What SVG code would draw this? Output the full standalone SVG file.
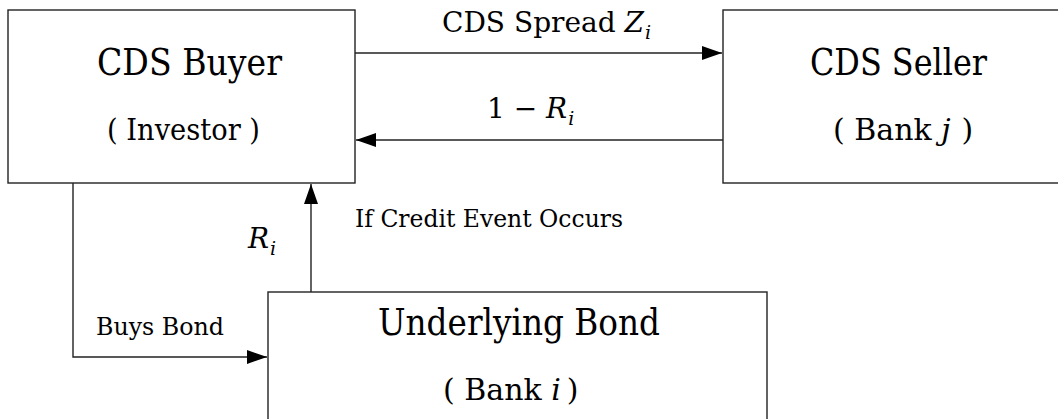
<svg xmlns="http://www.w3.org/2000/svg" width="1058" height="419" viewBox="0 0 1058 419" font-family="'DejaVu Serif', 'Liberation Serif', serif">
<style>
.box{fill:#fff;stroke:#222;stroke-width:1.4}
.ln{fill:none;stroke:#222;stroke-width:1.4}
text{fill:#000;font-family:"DejaVu Serif","Liberation Serif",serif}
.big{font-size:37px}
.mid{font-size:30px}
.lbl{font-size:28px}
.sm{font-size:24px}
.it{font-style:italic}
.sub{font-style:italic;font-size:19px}
</style>
<defs>
<marker id="ah" markerUnits="userSpaceOnUse" markerWidth="22" markerHeight="14" refX="20" refY="7" orient="auto">
<path d="M0,0 L20,7 L0,14 Z" fill="#000"/>
</marker>
</defs>
<rect width="1058" height="419" fill="#fff"/>
<g id="buyer">
<rect class="box" x="8" y="10" width="347" height="173"/>
<text class="big" x="97" y="75" textLength="185" lengthAdjust="spacingAndGlyphs">CDS Buyer</text>
<text class="mid" x="107" y="140" textLength="153" lengthAdjust="spacingAndGlyphs">( Investor )</text>
</g>
<g id="seller">
<rect class="box" x="723" y="10" width="350" height="173"/>
<text class="big" x="810" y="75" textLength="177" lengthAdjust="spacingAndGlyphs">CDS Seller</text>
<text class="mid" x="833" y="140">( Bank <tspan class="it">j</tspan><tspan dx="11">)</tspan></text>
</g>
<g id="bond">
<rect class="box" x="268" y="292" width="499" height="140"/>
<text class="big" x="378" y="335" textLength="282" lengthAdjust="spacingAndGlyphs">Underlying Bond</text>
<text class="mid" x="443" y="400">( Bank <tspan class="it">i</tspan><tspan dx="6">)</tspan></text>
</g>
<g id="connectors">
<line class="ln" x1="355" y1="53" x2="722" y2="53" marker-end="url(#ah)"/>
<line class="ln" x1="723" y1="140" x2="356" y2="140" marker-end="url(#ah)"/>
<line class="ln" x1="311" y1="292" x2="311" y2="184" marker-end="url(#ah)"/>
<polyline class="ln" points="73,183 73,357 267,357" marker-end="url(#ah)"/>
<text class="lbl" x="442" y="32">CDS Spread <tspan class="it">Z</tspan><tspan class="sub" dx="1" dy="7">i</tspan></text>
<text class="lbl" x="487" y="118">1 − <tspan class="it">R</tspan><tspan class="sub" dx="1" dy="7">i</tspan></text>
<text class="lbl" x="248" y="248"><tspan class="it">R</tspan><tspan class="sub" dx="1" dy="7">i</tspan></text>
<text class="sm" x="355" y="227" textLength="268" lengthAdjust="spacingAndGlyphs">If Credit Event Occurs</text>
<text class="sm" x="96" y="335" textLength="128" lengthAdjust="spacingAndGlyphs">Buys Bond</text>
</g>
</svg>
